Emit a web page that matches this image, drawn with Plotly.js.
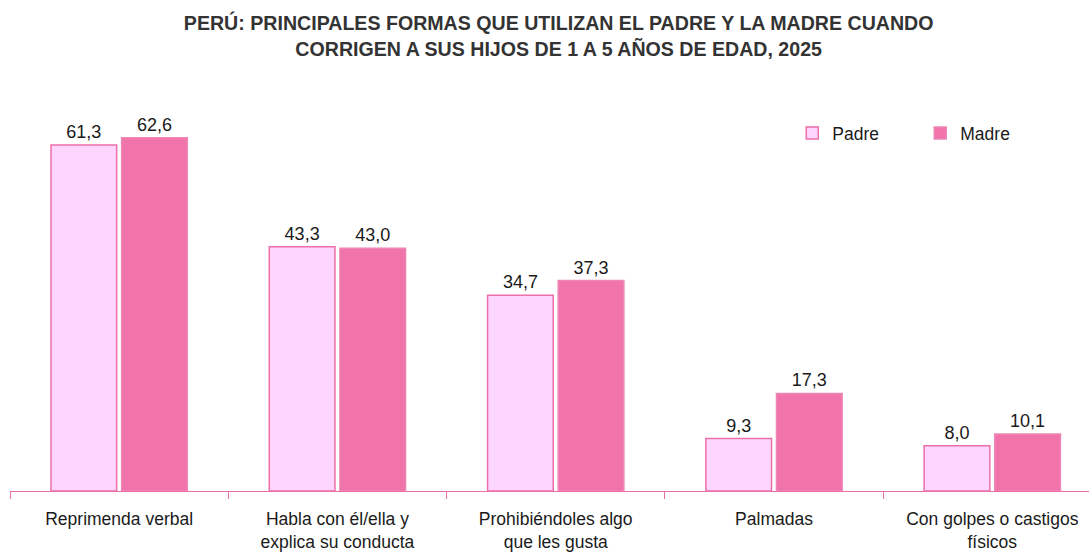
<!DOCTYPE html>
<html>
<head>
<meta charset="utf-8">
<script src="https://cdn.plot.ly/plotly-3.0.1.min.js"></script>
<style>html,body{margin:0;padding:0;background:#fff;}#chart{width:1089px;height:553px;}</style>
</head>
<body>
<div id="chart"></div>
<script>
const categories = [
  "Reprimenda verbal",
  "Habla con él/ella y<br>explica su conducta",
  "Prohibiéndoles algo<br>que les gusta",
  "Palmadas",
  "Con golpes o castigos<br>físicos"
];
const padre = [61.3, 43.3, 34.7, 9.3, 8.0];
const madre = [62.6, 43.0, 37.3, 17.3, 10.1];
const seriesNames = ["Padre", "Madre"];

const FONT = '"Liberation Sans", Arial, sans-serif';
const fmt = v => v.toFixed(1).replace('.', ',');

const traces = [
  {
    type: 'bar', name: seriesNames[0], x: categories, y: padre,
    text: padre.map(fmt), textposition: 'outside', cliponaxis: false,
    textfont: {family: FONT, size: 18, color: '#1a1a1a'},
    marker: {color: '#FED5FE', line: {color: '#EC6FA8', width: 1.5}},
    hoverinfo: 'none'
  },
  {
    type: 'bar', name: seriesNames[1], x: categories, y: madre,
    text: madre.map(fmt), textposition: 'outside', cliponaxis: false,
    textfont: {family: FONT, size: 18, color: '#1a1a1a'},
    marker: {color: '#F073A9', line: {color: '#EE86B5', width: 1.5}},
    hoverinfo: 'none'
  }
];

const layout = {
  width: 1089, height: 553,
  margin: {l: 10, r: 0, t: 96, b: 62, autoexpand: false},
  paper_bgcolor: '#ffffff', plot_bgcolor: '#ffffff',
  font: {family: FONT, size: 17.5, color: '#1a1a1a'},
  title: {
    text: '<b>PERÚ: PRINCIPALES FORMAS QUE UTILIZAN EL PADRE Y LA MADRE CUANDO<br>CORRIGEN A SUS HIJOS DE 1 A 5 AÑOS DE EDAD, 2025</b>',
    font: {family: FONT, size: 19.6, color: '#333333'},
    x: 0.513, xanchor: 'center', xref: 'container',
    y: 0.945, yanchor: 'middle', yref: 'container'
  },
  barmode: 'group', bargap: 0.353, bargroupgap: 0.07,
  xaxis: {
    type: 'category', range: [-0.5, 4.443], showline: true, linecolor: '#EC6FA8', linewidth: 1,
    ticks: 'outside', tickson: 'boundaries', ticklen: 7, tickcolor: '#EC6FA8', tickwidth: 1,
    tickangle: 0, automargin: false, ticklabelstandoff: 12,
    tickfont: {family: FONT, size: 17.5, color: '#1a1a1a'},
    showgrid: false, zeroline: false, fixedrange: true
  },
  yaxis: {
    range: [0, 70], visible: false, showgrid: false, zeroline: false, fixedrange: true, automargin: false
  },
  showlegend: true,
  legend: {
    orientation: 'h', x: 0.725, xanchor: 'left', y: 0.906, yanchor: 'middle',
    font: {family: FONT, size: 17.5, color: '#1a1a1a'},
    entrywidth: 83, entrywidthmode: 'pixels', itemwidth: 30,
    bgcolor: 'rgba(0,0,0,0)'
  }
};

Plotly.newPlot('chart', traces, layout, {displayModeBar: false, staticPlot: true});
</script>
</body>
</html>
